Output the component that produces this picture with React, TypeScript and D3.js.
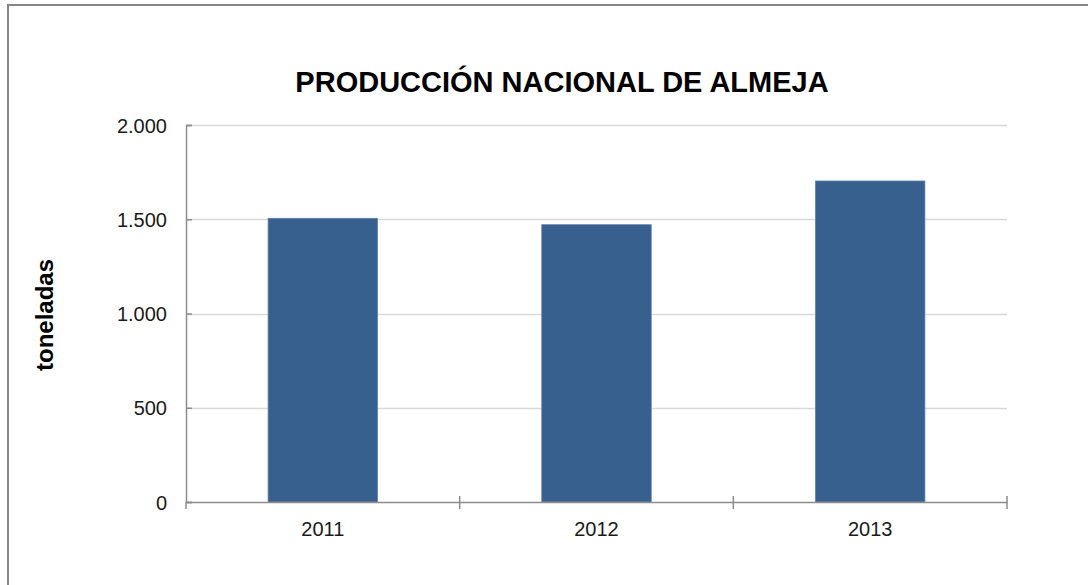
import React, { useEffect, useRef } from 'react';
import * as d3 from 'd3';

const years = ['2011', '2012', '2013'];
const tonnes = [1505, 1471, 1703];
const yTicks = [0, 500, 1000, 1500, 2000];

const W = 1088;
const H = 585;
const margin = { left: 186, right: 81, top: 125, bottom: 83 };

const App = () => {
  const ref = useRef<SVGSVGElement>(null);

  useEffect(() => {
    const svg = d3.select(ref.current);
    svg.selectAll('*').remove();

    const fmt = d3.formatLocale({ decimal: ',', thousands: '.', grouping: [3], currency: ['', '€'] }).format(',');

    const x = d3
      .scaleBand()
      .domain(years)
      .range([margin.left, W - margin.right])
      .paddingInner(0.6)
      .paddingOuter(0.3);
    const y = d3.scaleLinear().domain([0, 2000]).range([H - margin.bottom, margin.top]);

    // outer frame
    svg
      .append('rect')
      .attr('x', 8)
      .attr('y', 5)
      .attr('width', 1300)
      .attr('height', 800)
      .attr('fill', '#fff')
      .attr('stroke', '#878787')
      .attr('stroke-width', 2);

    // title
    svg
      .append('text')
      .attr('x', 562)
      .attr('y', 92)
      .attr('text-anchor', 'middle')
      .attr('font-family', 'Liberation Sans, Arial, sans-serif')
      .attr('font-weight', 'bold')
      .attr('font-size', 29)
      .attr('fill', '#000')
      .text('PRODUCCIÓN NACIONAL DE ALMEJA');

    // gridlines
    svg
      .append('g')
      .selectAll('line')
      .data(yTicks.filter((d) => d > 0))
      .enter()
      .append('line')
      .attr('x1', margin.left)
      .attr('x2', W - margin.right)
      .attr('y1', (d) => Math.round(y(d)) + 0.5)
      .attr('y2', (d) => Math.round(y(d)) + 0.5)
      .attr('stroke', '#d9d9d9')
      .attr('stroke-width', 1.5);

    // bars
    svg
      .append('g')
      .selectAll('rect')
      .data(tonnes)
      .enter()
      .append('rect')
      .attr('x', (d, i) => x(years[i]) as number)
      .attr('width', x.bandwidth())
      .attr('y', (d) => y(d))
      .attr('height', (d) => y(0) - y(d))
      .attr('fill', '#37608f')
      .attr('stroke', '#5f82ad')
      .attr('stroke-width', 0.8);

    // y axis
    const yAxis = d3
      .axisLeft(y)
      .tickValues(yTicks)
      .tickSize(-6)
      .tickPadding(19)
      .tickFormat((d) => fmt(d as number));
    const gy = svg.append('g').attr('transform', `translate(${margin.left},0)`).call(yAxis);
    gy.select('.domain').attr('stroke', '#8c8c8c').attr('stroke-width', 1.5);
    gy.selectAll('.tick line').attr('stroke', '#8c8c8c').attr('stroke-width', 1.5);
    gy.selectAll('.tick text')
      .attr('font-family', 'Liberation Sans, Arial, sans-serif')
      .attr('font-size', 20)
      .attr('fill', '#1a1a1a')
      .attr('dy', '0.36em');

    // x axis, ticks sit on the category boundaries
    const xAxis = d3.axisBottom(x).tickSize(0).tickPadding(20);
    const gx = svg.append('g').attr('transform', `translate(0,${y(0)})`).call(xAxis);
    gx.select('.domain').attr('stroke', '#8c8c8c').attr('stroke-width', 1.5);
    gx.selectAll('.tick text')
      .attr('font-family', 'Liberation Sans, Arial, sans-serif')
      .attr('font-size', 20)
      .attr('fill', '#1a1a1a');
    const bounds = d3.range(years.length + 1).map((i) => margin.left + (i * (W - margin.left - margin.right)) / years.length);
    gx.selectAll('.bound')
      .data(bounds)
      .enter()
      .append('line')
      .attr('class', 'bound')
      .attr('x1', (d) => d)
      .attr('x2', (d) => d)
      .attr('y1', (d, i) => (i === 0 ? 0 : -6))
      .attr('y2', 7)
      .attr('stroke', '#8c8c8c')
      .attr('stroke-width', 1.5);

    // y label
    svg
      .append('text')
      .attr('transform', 'translate(53,315) rotate(-90)')
      .attr('text-anchor', 'middle')
      .attr('font-family', 'Liberation Sans, Arial, sans-serif')
      .attr('font-weight', 'bold')
      .attr('font-size', 24)
      .attr('fill', '#000')
      .text('toneladas');
  }, []);

  return (
    <svg
      ref={ref}
      width={W}
      height={H}
      style={{ position: 'absolute', left: 0, top: 0, background: '#fff' }}
    />
  );
};

export default App;
